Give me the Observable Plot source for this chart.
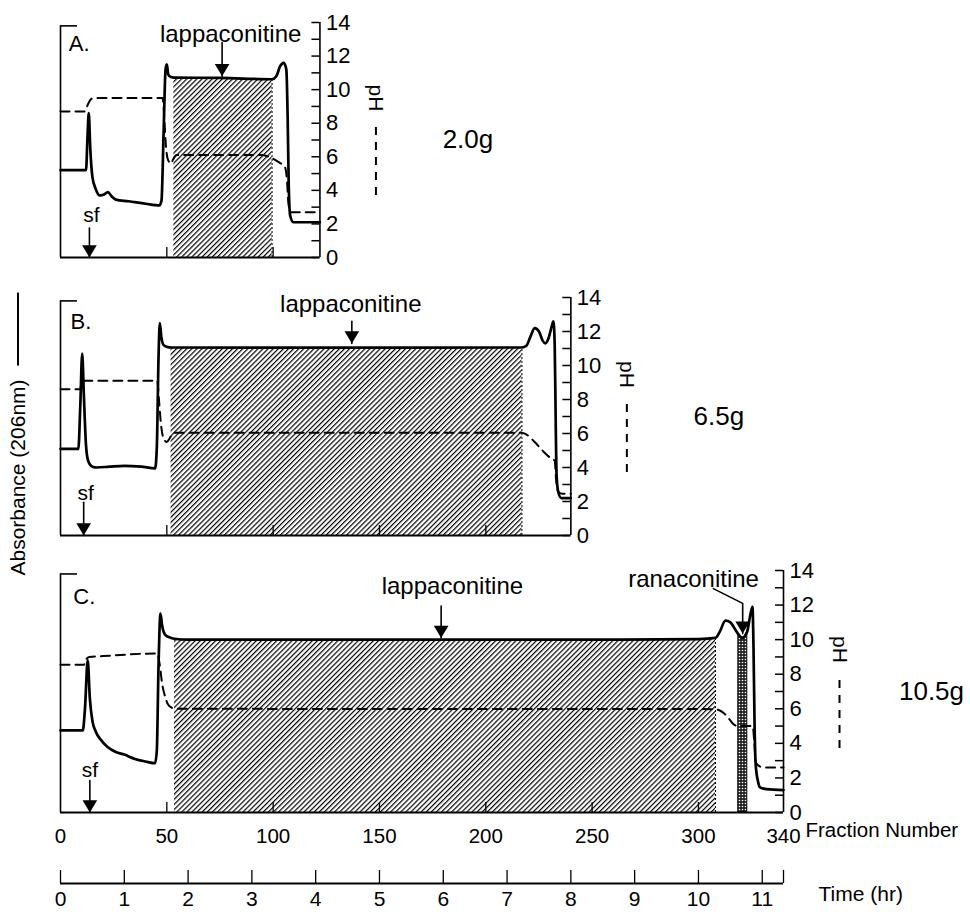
<!DOCTYPE html>
<html>
<head>
<meta charset="utf-8">
<script src="https://cdn.jsdelivr.net/npm/d3@7"></script>
<script src="https://cdn.jsdelivr.net/npm/@observablehq/plot@0.6"></script>
<style>
  body { margin: 0; background: #fff; }
  #wrap { position: relative; width: 970px; height: 912px; font-family: "Liberation Sans", Arial, Helvetica, sans-serif; color: #000; }
  .panel { position: absolute; left: 0; }
  #ylab { position: absolute; left: 18px; top: 434px; transform: translate(-50%, -50%) rotate(-90deg);
          white-space: nowrap; font-size: 21px; display: flex; align-items: center; }
  #ylab .sample { display: inline-block; width: 73px; border-top: 2px solid #000; margin-left: 14px; }
</style>
</head>
<body>
<div id="wrap">
  <svg width="0" height="0" style="position:absolute">
    <defs>
      <pattern id="hatch" patternUnits="userSpaceOnUse" width="3.6" height="3.6" patternTransform="rotate(45)">
        <line x1="0.6" y1="0" x2="0.6" y2="3.6" stroke="#000" stroke-width="1.2"/>
      </pattern>
      <pattern id="stipple" patternUnits="userSpaceOnUse" width="3" height="3">
        <rect width="3" height="3" fill="#222"/>
        <circle cx="1.5" cy="1.5" r="0.8" fill="#fff"/>
      </pattern>
    </defs>
  </svg>
  <div id="ylab"><span>Absorbance (206nm)</span><span class="sample"></span></div>
</div>
<script>
// ---------- data (fraction number, value on the 0–14 scale) ----------
const fractionTicks = [0, 50, 100, 150, 200, 250, 300, 340];
const phTicks = d3.range(0, 15);
const phTickLabels = [0, 2, 4, 6, 8, 10, 12, 14];
const timeTicks = d3.range(0, 12);
const fractionsPerHour = 30;
const lastFraction = 340;

// Panel A (2.0 g)
const absA = [[0,5.2],[12,5.2],[12.7,7.2],[13.3,8.6],[14,6.5],[15,4.8],[16.5,4.1],[18.5,3.7],[20.5,3.75],[22.3,3.9],[24,3.65],[26,3.45],[32,3.35],[40,3.2],[46.5,3.1],[47.5,3.4],[48.5,7.5],[49.4,11.2],[50,11.5],[50.7,10.9],[52,10.75],[53.3,10.72],[75,10.7],[99.5,10.62],[101.5,10.8],[103.3,11.4],[105,11.6],[106.2,11.2],[106.8,8.5],[107.3,4.5],[108,2.5],[109.5,2.1],[122,2.1]];
const phA = [[0,8.7],[11.5,8.7],[12.8,9.1],[14.5,9.45],[16,9.5],[48,9.5],[48.8,8.3],[49.6,6.6],[50.6,5.8],[52,5.6],[53,5.85],[54.5,6.1],[94,6.1],[99,5.95],[103,5.65],[105.5,5.4],[106.5,4.6],[107.2,3.2],[108.3,2.7],[122,2.7]];
const hatchA = [53.3, 99.5];
const innerTicksA = [50, 100];
const labelsA = [{text: "lappaconitine", f: 80, v: 13.3}];
const sfA = [{text: "sf", f: 14.5, v: 2.5}];
const letterA = [{text: "A.", f: 3.9, v: 12.7}];
const arrowsA = [{name: "lappaconitine", path: [[76,12.8],[76,10.8]]}, {name: "sf", path: [[13.6,1.75],[13.6,0]]}];

// Panel B (6.5 g)
const absB = [[0,5.1],[8.4,5.1],[9.3,7.6],[10.2,10.7],[11,8.2],[12,5.3],[13,4.4],[15,4.05],[17,4.0],[23,4.05],[30,4.1],[38,4.05],[44.5,3.95],[45.3,5.2],[46.1,10.5],[46.7,12.5],[47.4,11.7],[48.5,11.2],[50.5,11.08],[52,11.06],[100,11.05],[170,11.05],[217,11.06],[219,11.15],[221,11.7],[223,12.2],[225,12.0],[226.8,11.45],[228,11.3],[229.5,11.6],[231,12.3],[231.8,12.6],[232.4,11.2],[232.8,7.5],[233.2,3.8],[234,2.6],[235.5,2.2],[240,2.2]];
const phB = [[0,8.6],[9.3,8.6],[10,9.1],[45.5,9.1],[46.3,8],[47.2,6.6],[48.5,5.7],[50,5.5],[51.5,5.75],[53,6.05],[217,6.05],[219,5.95],[223,5.5],[227,4.95],[230,4.6],[232.4,4.4],[233,3.4],[234,2.6],[236,2.45],[240,2.45]];
const hatchB = [52, 217];
const innerTicksB = [50, 100, 150, 200];
const labelsB = [{text: "lappaconitine", f: 136.5, v: 13.6}];
const sfB = [{text: "sf", f: 11.8, v: 2.5}];
const letterB = [{text: "B.", f: 4.7, v: 12.55}];
const arrowsB = [{name: "lappaconitine", path: [[137,12.6],[137,11.3]]}, {name: "sf", path: [[10.9,1.95],[10.9,0]]}];

// Panel C (10.5 g)
const absC = [[0,4.75],[10.5,4.75],[11.5,6],[12.8,8.8],[13.8,6.6],[15,5.3],[16.5,4.7],[19,4.2],[22,3.8],[26,3.5],[30,3.35],[35,3.1],[40,2.95],[44.5,2.85],[45.3,3.6],[46.1,8.5],[47,11.5],[47.8,10.8],[49.4,10.25],[52,10.1],[53.6,10.05],[60,10.0],[150,10.0],[250,10.0],[300,10.03],[308,10.1],[310,10.45],[312.7,11.1],[315,11.0],[317,10.65],[318.8,10.3],[320.7,10.1],[322.3,10.3],[323,10.5],[324.5,11.5],[325.4,11.9],[325.9,9.5],[326.4,5],[326.9,2.8],[328,1.8],[329,1.45],[332,1.35],[340,1.3]];
const phC = [[0,8.55],[11,8.55],[12.3,8.9],[13.5,9.0],[20,9.05],[45.5,9.2],[46.6,8.6],[47.8,7.45],[49.2,6.7],[50.6,6.25],[52.5,6.05],[54,6.0],[307,5.98],[310,5.9],[312.2,5.72],[314.5,5.4],[316.5,5.1],[318.5,5.0],[325.5,5.0],[326.3,4.0],[327,2.9],[329,2.65],[331,2.6],[340,2.6]];
const hatchC = [53.6, 308];
const stippleC = [318.8, 323];
const innerTicksC = [50, 100, 150, 200, 250, 300];
const labelsC = [{text: "lappaconitine", f: 184.3, v: 13.1}, {text: "ranaconitine", f: 297.7, v: 13.5}];
const sfC = [{text: "sf", f: 13.8, v: 2.45}];
const letterC = [{text: "C.", f: 6.0, v: 12.45}];
const arrowsC = [{name: "lappaconitine", path: [[179,11.95],[179,10.1]]}, {name: "ranaconitine", path: [[307,12.95],[320.8,12.1],[320.8,10.35]]}, {name: "sf", path: [[13.8,1.85],[13.8,0]]}];

const loads = ["2.0g", "6.5g", "10.5g"];
const panelEnds = [122, 240, 340];
const legendDashSpan = [3.7, 7.9];

// ---------- layout ----------
const K = 2.1265;          // px per fraction
const W = 970, ML = 60;
const FONT = "Liberation Sans, Arial, Helvetica, sans-serif";

const downTriangle = {
  draw(ctx, size) {
    const s = Math.sqrt(size);
    const h = 1.25 * s, w = 0.75 * s;
    ctx.moveTo(0, 0); ctx.lineTo(-w, -h); ctx.lineTo(w, -h); ctx.closePath();
  }
};

const panels = [
  {end: panelEnds[0], top: 0,   height: 280, mt: 22, mb: 23, abs: absA, ph: phA, hatch: hatchA, stipple: null, inner: innerTicksA, labels: labelsA, sf: sfA, letter: letterA, arrows: arrowsA, load: loads[0], xAxis: false},
  {end: panelEnds[1], top: 280, height: 270, mt: 17, mb: 15, abs: absB, ph: phB, hatch: hatchB, stipple: null, inner: innerTicksB, labels: labelsB, sf: sfB, letter: letterB, arrows: arrowsB, load: loads[1], xAxis: false},
  {end: panelEnds[2], top: 550, height: 300, mt: 20, mb: 38, abs: absC, ph: phC, hatch: hatchC, stipple: stippleC, inner: innerTicksC, labels: labelsC, sf: sfC, letter: letterC, arrows: arrowsC, load: loads[2], xAxis: true}
];

const wrap = document.getElementById("wrap");

function drawPanel(p) {
  const fw = p.end * K;
  const fh = p.height - p.mt - p.mb;
  const absRows = p.abs.map(([f, v]) => ({f, v}));
  const phRows = p.ph.map(([f, v]) => ({f, v}));
  const between = ([lo, hi]) => absRows.filter(d => d.f >= lo && d.f <= hi);
  const edge = absRows.find(d => d.f === p.hatch[1]);
  const heads = p.arrows.map(a => { const t = a.path[a.path.length - 1]; return {f: t[0], v: t[1]}; });
  const stems = p.arrows.flatMap(a => a.path.map(([f, v]) => ({name: a.name, f, v})));

  const marks = [
    Plot.areaY(between(p.hatch), {x: "f", y: "v", fill: "url(#hatch)", curve: "monotone-x"}),
    p.stipple ? Plot.areaY(between(p.stipple), {x: "f", y: "v", fill: "url(#stipple)", stroke: "#000", strokeWidth: 0.8, curve: "monotone-x"}) : null,
    Plot.ruleX([edge], {x: "f", y1: 0, y2: "v", stroke: "#000", strokeWidth: 1, strokeDasharray: "2,2"}),
    Plot.ruleX([0], {y1: 0, y2: 13.8, stroke: "#000", strokeWidth: 1.6}),
    Plot.ruleY([13.8], {x1: 0, x2: 8, stroke: "#000", strokeWidth: 1.6}),
    Plot.ruleY([0], {stroke: "#000", strokeWidth: 2}),
    Plot.ruleX([p.end], {stroke: "#000", strokeWidth: 1.6}),
    Plot.tickX(p.inner, {x: d => d, insetTop: fh - 10, stroke: "#000", strokeWidth: 1.3}),
    Plot.tickY(phTicks, {y: d => d, insetLeft: fw - 8, stroke: "#000", strokeWidth: 1.5}),
    Plot.axisY(phTickLabels, {anchor: "right", tickSize: 0, tickPadding: 6, fontSize: 22, label: null}),
    Plot.line(phRows, {x: "f", y: "v", stroke: "#000", strokeWidth: 2, strokeDasharray: "9,6", curve: "monotone-x"}),
    Plot.line(absRows, {x: "f", y: "v", stroke: "#000", strokeWidth: 2.7, curve: "monotone-x"}),
    Plot.line(stems, {x: "f", y: "v", z: "name", stroke: "#000", strokeWidth: 1.6}),
    Plot.dot(heads, {x: "f", y: "v", r: 5.5, symbol: downTriangle, fill: "#000"}),
    Plot.text(p.labels, {x: "f", y: "v", text: "text", fontSize: 24, textAnchor: "middle", fill: "#000"}),
    Plot.text(p.sf, {x: "f", y: "v", text: "text", fontSize: 21, textAnchor: "middle", fill: "#000"}),
    Plot.text(p.letter, {x: "f", y: "v", text: "text", fontSize: 22, textAnchor: "start", fill: "#000"}),
    Plot.text(["pH"], {frameAnchor: "right", dx: 56, dy: -42, rotate: 90, textAnchor: "middle", fontSize: 21, fill: "#000"}),
    Plot.ruleX([p.end], {y1: legendDashSpan[0], y2: legendDashSpan[1], dx: 56, stroke: "#000", strokeWidth: 2, strokeDasharray: "8,7"}),
    Plot.text([p.load], {frameAnchor: "right", dx: 148, textAnchor: "middle", fontSize: 26, fill: "#000"})
  ];
  if (p.xAxis) {
    marks.push(Plot.axisX(fractionTicks, {anchor: "bottom", tickSize: 0, tickPadding: 16, fontSize: 20.5, label: null}));
    marks.push(Plot.text(["Fraction Number"], {frameAnchor: "bottom-right", dx: 22, dy: 24, textAnchor: "start", fontSize: 20.5, fill: "#000"}));
  }
  const chart = Plot.plot({
    width: W, height: p.height,
    marginLeft: ML, marginRight: W - ML - fw, marginTop: p.mt, marginBottom: p.mb,
    x: {domain: [0, p.end], axis: p.xAxis ? undefined : null, label: null},
    y: {domain: [0, 14], label: null},
    style: {fontFamily: FONT, fontSize: "21px", background: "transparent", overflow: "visible", color: "#000"},
    marks
  });
  const holder = document.createElement("div");
  holder.className = "panel";
  holder.style.top = p.top + "px";
  holder.appendChild(chart);
  wrap.appendChild(holder);
}

panels.forEach(drawPanel);

// time axis
const timeEnd = lastFraction / fractionsPerHour;
const timeChart = Plot.plot({
  width: W, height: 62,
  marginLeft: ML, marginRight: W - ML - lastFraction * K, marginTop: 20, marginBottom: 29,
  x: {domain: [0, timeEnd], label: null},
  y: {domain: [0, 1], axis: null},
  style: {fontFamily: FONT, fontSize: "21px", background: "transparent", overflow: "visible", color: "#000"},
  marks: [
    Plot.ruleY([0], {stroke: "#000", strokeWidth: 1.8}),
    Plot.tickX([...timeTicks, timeEnd], {x: d => d, stroke: "#000", strokeWidth: 1.3}),
    Plot.axisX(timeTicks, {anchor: "bottom", tickSize: 0, tickPadding: 8, fontSize: 21, label: null}),
    Plot.text(["Time (hr)"], {frameAnchor: "bottom-right", dx: 35, dy: 17, textAnchor: "start", fontSize: 21, fill: "#000"})
  ]
});
const th = document.createElement("div");
th.className = "panel";
th.style.top = "850px";
th.appendChild(timeChart);
wrap.appendChild(th);
</script>
</body>
</html>
